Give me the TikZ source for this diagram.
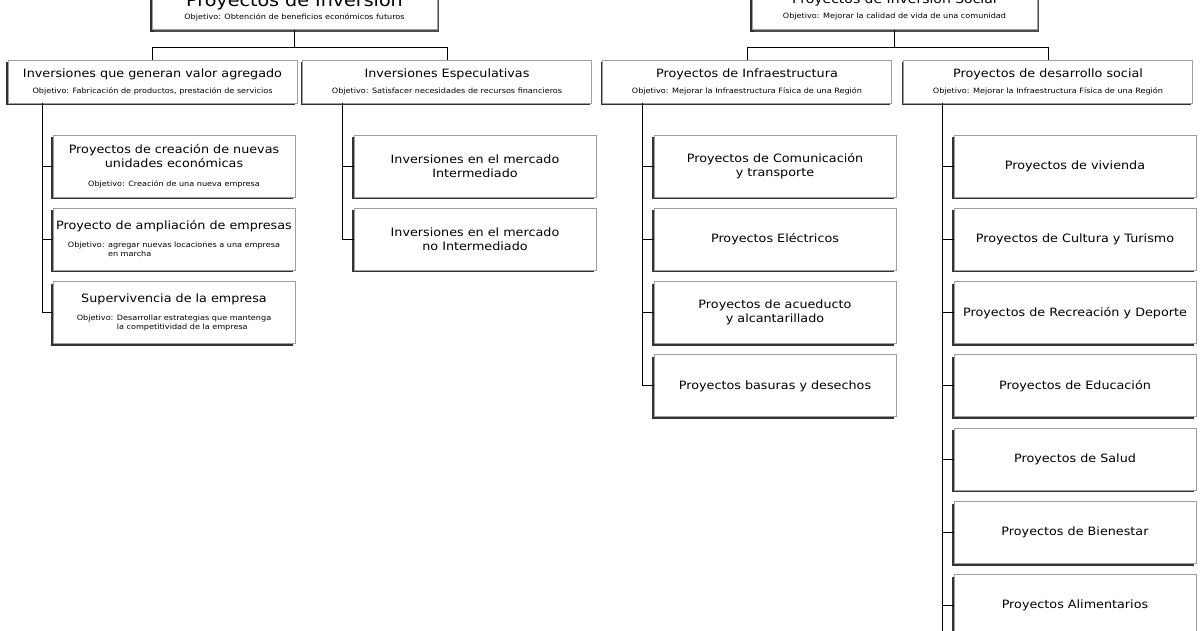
\documentclass[tikz,border=0pt]{standalone}
\usepackage{fontspec}
\setmainfont{DejaVu Sans}[FakeStretch=1.11]
\usetikzlibrary{shadows}
\tikzset{
  caja/.style={draw=gray!75, line width=0.9pt, fill=white, inner sep=1pt, align=center,
    general shadow={shadow xshift=-2pt, shadow yshift=-2pt, fill=black!80}},
  raiz/.style={caja, minimum width=285pt, minimum height=46pt, anchor=south,
    general shadow={shadow xshift=2pt, shadow yshift=-2pt, fill=black!70}},
  nivel/.style={caja, minimum width=289pt, minimum height=43pt, font=\fontsize{11.5}{14}\selectfont},
  hijo/.style={caja, minimum width=242pt, minimum height=62pt, font=\fontsize{11.5}{14}\selectfont},
  linea/.style={line width=1pt}
}
\newcommand{\objn}[1]{{\fontsize{7.3}{9}\selectfont Objetivo: #1}}
\newcommand{\objh}[1]{{\fontsize{7.3}{9}\selectfont Objetivo: #1}}
\begin{document}
\begin{tikzpicture}[x=1pt,y=-1pt]
% Area visible
\useasboundingbox (0,0) rectangle (1200,630);
\clip (0,0) rectangle (1200,630);

% Raices
\node[raiz] (inv) at (294.5,30) {{\fontsize{17.2}{18}\selectfont Proyectos de Inversión}\\[1pt]{\fontsize{7.3}{9}\selectfont Objetivo: Obtención de beneficios económicos futuros}};
\node[raiz] (invsoc) at (894.5,30) {{\fontsize{12.6}{14}\selectfont Proyectos de Inversión Social}\\[3pt]{\fontsize{7.3}{9}\selectfont Objetivo: Mejorar la calidad de vida de una comunidad}};

% Segundo nivel
\node[nivel] (valor) at (152.5,81.5) {Inversiones que generan valor agregado\\[2pt]\objn{Fabricación de productos, prestación de servicios}};
\node[nivel] (espec) at (447,81.5) {Inversiones Especulativas\\[2pt]\objn{Satisfacer necesidades de recursos financieros}};
\node[nivel] (infra) at (747,81.5) {Proyectos de Infraestructura\\[2pt]\objn{Mejorar la Infraestructura Física de una Región}};
\node[nivel] (social) at (1048,81.5) {Proyectos de desarrollo social\\[2pt]\objn{Mejorar la Infraestructura Física de una Región}};

% Conectores raiz
\draw[linea] (inv.south) -- ++(0,17) -| (valor.north);
\draw[linea] (inv.south) -- ++(0,17) -| (espec.north);
\draw[linea] (invsoc.south) -- ++(0,17) -| (infra.north);
\draw[linea] (invsoc.south) -- ++(0,17) -| (social.north);

% Buses
\coordinate (busA) at (42,103);
\coordinate (busB) at (342,103);
\coordinate (busC) at (642,103);
\coordinate (busD) at (942,103);
\coordinate (finD) at (942,640);

% Inversiones que generan valor agregado
\node[hijo] (valor1) at (174,166) {Proyectos de creación de nuevas\\unidades económicas\\[5pt]\objh{Creación de una nueva empresa}};
\node[hijo] (valor2) at (174,239.3) {Proyecto de ampliación de empresas\\[4pt]\objh{\begin{tabular}[t]{@{}l@{}}agregar nuevas locaciones a una empresa\\en marcha\end{tabular}}};
\node[hijo] (valor3) at (174,312.6) {Supervivencia de la empresa\\[4pt]\objh{\begin{tabular}[t]{@{}l@{}}Desarrollar estrategias que mantenga\\la competitividad de la empresa\end{tabular}}};
\foreach \i in {1,2,3} {
  \draw[linea] (busA) |- (valor\i.west);
}

% Inversiones Especulativas
\foreach \i/\txt in {1/{Inversiones en el mercado\\Intermediado}, 2/{Inversiones en el mercado\\no Intermediado}} {
  \node[hijo] (espec\i) at (475,{166+73.3*(\i-1)}) {\txt};
  \draw[linea] (busB) |- (espec\i.west);
}

% Proyectos de Infraestructura
\foreach \i/\txt in {1/{Proyectos de Comunicación\\y transporte}, 2/{Proyectos Eléctricos}, 3/{Proyectos de acueducto\\y alcantarillado}, 4/{Proyectos basuras y desechos}} {
  \node[hijo] (infra\i) at (775,{166+73.3*(\i-1)}) {\txt};
  \draw[linea] (busC) |- (infra\i.west);
}

% Proyectos de desarrollo social
\foreach \i/\txt in {1/{Proyectos de vivienda}, 2/{Proyectos de Cultura y Turismo}, 3/{Proyectos de Recreación y Deporte}, 4/{Proyectos de Educación}, 5/{Proyectos de Salud}, 6/{Proyectos de Bienestar}, 7/{Proyectos Alimentarios}} {
  \node[hijo] (social\i) at (1075,{166+73.3*(\i-1)}) {\txt};
  \draw[linea] (busD) |- (social\i.west);
}
\draw[linea] (busD) -- (finD);
\end{tikzpicture}
\end{document}
